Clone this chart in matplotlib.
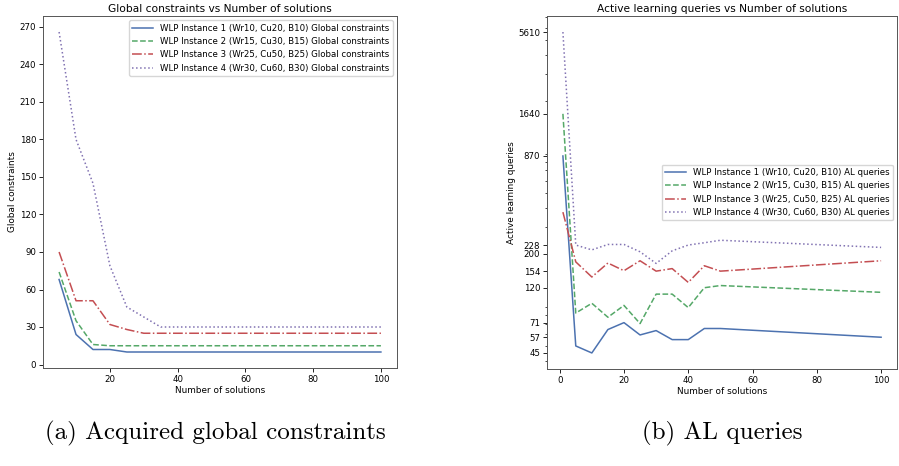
import matplotlib
matplotlib.use('Agg')
import matplotlib.pyplot as plt
from matplotlib.ticker import NullFormatter, FixedLocator, FixedFormatter

# left panel: acquired global constraints
gc_x = [5, 10, 15, 20, 25, 30, 35, 40, 45, 50, 55, 60, 65, 70, 75, 80, 85, 90, 95, 100]
gc_inst1 = [68, 24, 12, 12, 10, 10, 10, 10, 10, 10, 10, 10, 10, 10, 10, 10, 10, 10, 10, 10]
gc_inst2 = [74, 35, 16, 15, 15, 15, 15, 15, 15, 15, 15, 15, 15, 15, 15, 15, 15, 15, 15, 15]
gc_inst3 = [90, 51, 51, 32, 28, 25, 25, 25, 25, 25, 25, 25, 25, 25, 25, 25, 25, 25, 25, 25]
gc_inst4 = [266, 180, 145, 79, 46, 38, 30, 30, 30, 30, 30, 30, 30, 30, 30, 30, 30, 30, 30, 30]

# right panel: active learning queries
al_x = [1, 5, 10, 15, 20, 25, 30, 35, 40, 45, 50, 100]
al_inst1 = [870, 50, 45, 64, 71, 59, 63, 55, 55, 65, 65, 57]
al_inst2 = [1640, 82, 95, 77, 92, 70, 109, 109, 89, 120, 124, 112]
al_inst3 = [374, 177, 141, 174, 155, 180, 154, 160, 130, 167, 154, 180]
al_inst4 = [5610, 228, 212, 230, 230, 206, 173, 209, 228, 236, 245, 220]
al_ticks = [45, 57, 71, 120, 154, 200, 228, 870, 1640, 5610]

names = ['WLP Instance 1 (Wr10, Cu20, B10)', 'WLP Instance 2 (Wr15, Cu30, B15)',
         'WLP Instance 3 (Wr25, Cu50, B25)', 'WLP Instance 4 (Wr30, Cu60, B30)']
colors = ['#4c72b0', '#55a868', '#c44e52', '#8172b2']
styles = ['-', '--', '-.', ':']

fig = plt.figure(figsize=(8.99, 4.66), dpi=100)
ax1 = fig.add_axes([43 / 899, 1 - 368 / 466, 354 / 899, 352 / 466])
ax2 = fig.add_axes([547 / 899, 1 - 369 / 466, 350 / 899, 353 / 466])

for ys, n, c, s in zip([gc_inst1, gc_inst2, gc_inst3, gc_inst4], names, colors, styles):
    ax1.plot(gc_x, ys, color=c, ls=s, lw=1.1, label=n + ' Global constraints')
ax1.set_yticks(range(0, 271, 30))
ax1.set_xticks([20, 40, 60, 80, 100])
ax1.set_title('Global constraints vs Number of solutions', fontsize=7.7, pad=3)
ax1.set_xlabel('Number of solutions', fontsize=6.4, labelpad=1.5)
ax1.set_ylabel('Global constraints', fontsize=6.4, labelpad=2)
ax1.legend(loc='upper right', fontsize=6.2, handlelength=2.4)

for ys, n, c, s in zip([al_inst1, al_inst2, al_inst3, al_inst4], names, colors, styles):
    ax2.plot(al_x, ys, color=c, ls=s, lw=1.1, label=n + ' AL queries')
ax2.set_yscale('log')
ax2.yaxis.set_major_locator(FixedLocator(al_ticks))
ax2.yaxis.set_major_formatter(FixedFormatter([str(t) for t in al_ticks]))
ax2.yaxis.set_minor_formatter(NullFormatter())
ax2.set_xticks([0, 20, 40, 60, 80, 100])
ax2.set_title('Active learning queries vs Number of solutions', fontsize=7.7, pad=3)
ax2.set_xlabel('Number of solutions', fontsize=6.4, labelpad=1.5)
ax2.set_ylabel('Active learning queries', fontsize=6.4, labelpad=2)
ax2.legend(loc='center right', fontsize=6.2, handlelength=2.4)

for ax in (ax1, ax2):
    ax.tick_params(which='major', labelsize=6.2, length=2.8, width=0.6, pad=2)
    ax.tick_params(which='minor', length=1.6, width=0.5)
    for sp in ax.spines.values():
        sp.set_color('#555555')
        sp.set_linewidth(0.7)

fig.text(215 / 899, 1 - 433 / 466, '(a) Acquired global constraints', family='cmr10',
         fontsize=18, ha='center', va='center')
fig.text(722 / 899, 1 - 433 / 466, '(b) AL queries', family='cmr10',
         fontsize=18, ha='center', va='center')

fig.savefig('out.png', dpi=100)
